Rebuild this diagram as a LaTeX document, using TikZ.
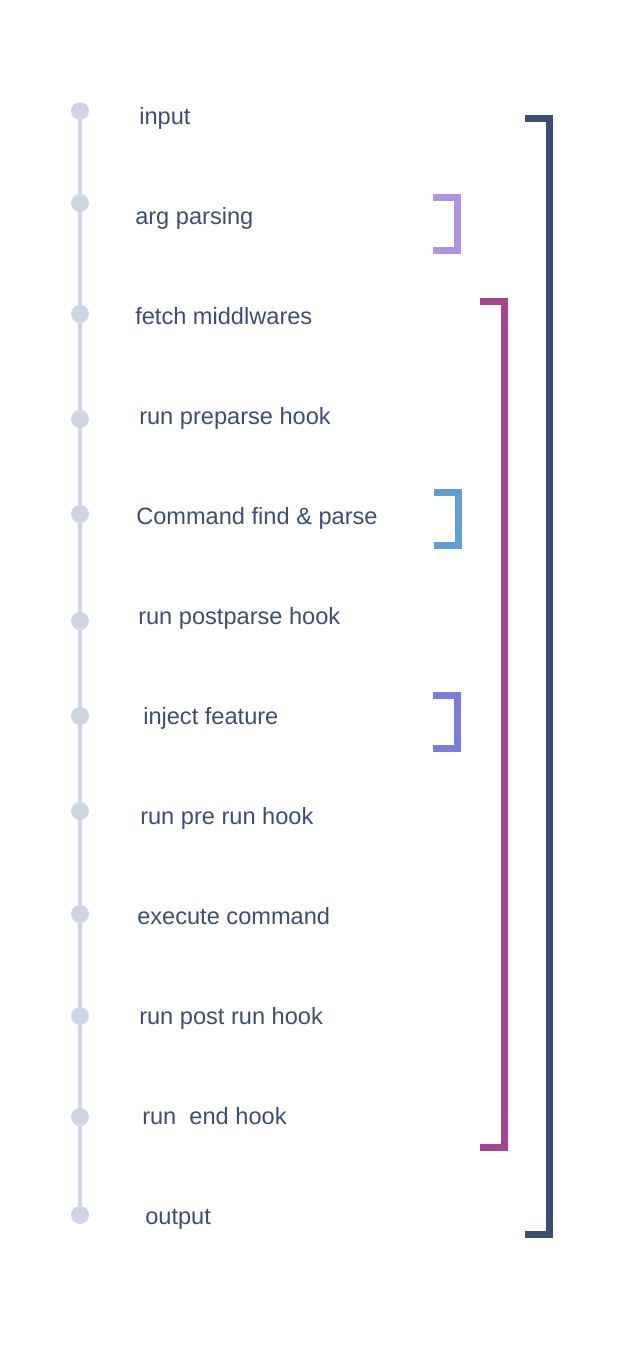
\documentclass[tikz,border=0pt]{standalone}
\usepackage{fontspec}
\setmainfont{Liberation Sans}
\usepackage{tikz}
\definecolor{navy}{HTML}{3E4D72}
\definecolor{railgrey}{HTML}{D0D5E6}
\definecolor{lilac}{HTML}{B093E0}
\definecolor{plum}{HTML}{A94390}
\definecolor{skyblue}{HTML}{629DD3}
\definecolor{indigo}{HTML}{7B7CDE}

\begin{document}
\begin{tikzpicture}[x=0.75pt,y=-0.75pt,
  dot/.style={circle,fill=railgrey,inner sep=0pt,minimum size=13.5pt},
  stage/.style={anchor=base west,inner sep=0pt,text=navy,
    font=\fontsize{17.7}{20}\selectfont},
  bracket/.style={line width=5.25pt,line join=miter,line cap=butt}]
  \useasboundingbox (0,0) rectangle (624,1370);
  % timeline
  \node[dot] (d1) at (80,111) {};
  \node[dot] (d2) at (80,203) {};
  \node[dot] (d3) at (80,314) {};
  \node[dot] (d4) at (80,419) {};
  \node[dot] (d5) at (80,514) {};
  \node[dot] (d6) at (80,621) {};
  \node[dot] (d7) at (80,716) {};
  \node[dot] (d8) at (80,811) {};
  \node[dot] (d9) at (80,914) {};
  \node[dot] (d10) at (80,1016) {};
  \node[dot] (d11) at (80,1117) {};
  \node[dot] (d12) at (80,1215) {};
  \draw[railgrey,line width=2.6pt] (d1) -- (d12);
  % stages
  \node[stage] (input) at (139,124) {input};
  \node[stage] (args) at (135,224) {arg parsing};
  \node[stage] (fetch) at (135,324) {fetch middlwares};
  \node[stage] (prep) at (139,424) {run preparse hook};
  \node[stage] (find) at (136,524) {Command find \& parse};
  \node[stage] (postp) at (138,624) {run postparse hook};
  \node[stage] (inject) at (143,724) {inject feature};
  \node[stage] (prerun) at (140,824) {run pre run hook};
  \node[stage] (exec) at (137,924) {execute command};
  \node[stage] (postrun) at (139,1024) {run post run hook};
  \node[stage] (endh) at (142,1124) {run\ \ end hook};
  \node[stage] (output) at (145,1224) {output};
  % brackets
  \draw[bracket,navy] (525,118.5) -- (549.5,118.5) -- (549.5,1234.5) -- (525,1234.5);
  \draw[bracket,plum] (480,301.5) -- (504.5,301.5) -- (504.5,1147.5) -- (480,1147.5);
  \draw[bracket,lilac] (433,197.5) -- (457.5,197.5) -- (457.5,250.5) -- (433,250.5);
  \draw[bracket,skyblue] (434,492.5) -- (458.5,492.5) -- (458.5,545.5) -- (434,545.5);
  \draw[bracket,indigo] (433,695.5) -- (457.5,695.5) -- (457.5,748.5) -- (433,748.5);
\end{tikzpicture}
\end{document}
